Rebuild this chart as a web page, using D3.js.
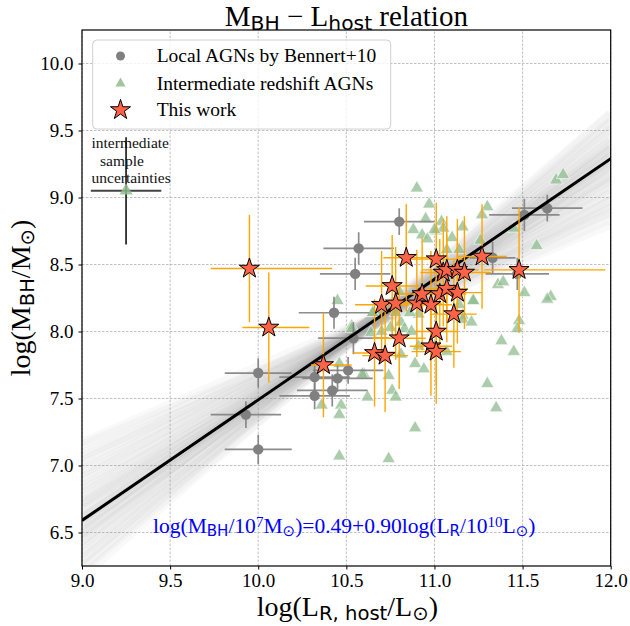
<!DOCTYPE html>
<html>
<head>
<meta charset="utf-8">
<script src="https://cdn.jsdelivr.net/npm/d3@7"></script>
<style>
  body { margin: 0; background: #fff; }
  svg { display: block; }
</style>
</head>
<body>
<div id="wrapper"></div>
<script>
// local AGNs (Bennert+10): x, y, xerr, yerr
var localAGN = [
    [9.93, 7.38, 0.20, 0.10],
    [10.00, 7.69, 0.19, 0.11],
    [10.00, 7.12, 0.19, 0.11],
    [10.32, 7.66, 0.20, 0.10],
    [10.32, 7.52, 0.20, 0.10],
    [10.42, 7.56, 0.20, 0.12],
    [10.45, 7.65, 0.20, 0.10],
    [10.51, 7.71, 0.20, 0.10],
    [10.54, 7.95, 0.20, 0.12],
    [10.43, 8.14, 0.20, 0.12],
    [10.80, 8.82, 0.20, 0.10],
    [10.57, 8.62, 0.20, 0.12],
    [10.55, 8.43, 0.20, 0.12],
    [11.64, 8.92, 0.20, 0.10],
    [11.51, 8.87, 0.20, 0.12],
    [11.33, 8.55, 0.13, 0.12],
    [11.47, 8.43, 0.18, 0.12]
]

// intermediate redshift AGNs: x, y
var interAGN = [
    [10.90, 9.07], [10.97, 8.95], [10.95, 8.84], [11.04, 8.82], [10.88, 8.76],
    [10.93, 8.72], [10.96, 8.69], [11.01, 8.75], [11.05, 8.77], [11.07, 8.61],
    [11.14, 8.61], [10.45, 8.23], [10.80, 8.30], [10.53, 8.04], [11.69, 9.13],
    [11.73, 9.17], [11.30, 8.93], [11.27, 8.87], [11.45, 8.77], [11.58, 8.64],
    [11.26, 8.68], [11.36, 8.35], [11.39, 8.37], [11.51, 8.29], [11.66, 8.26],
    [11.22, 8.23], [11.48, 8.08], [11.47, 8.02], [11.14, 8.20], [11.38, 7.93],
    [11.45, 7.85], [11.30, 7.61], [11.35, 7.43], [10.89, 7.28], [10.74, 7.05],
    [10.60, 7.68], [10.62, 7.51], [10.74, 7.67], [10.76, 7.56], [10.78, 7.51],
    [10.89, 7.76], [10.94, 7.72], [11.07, 7.85], [10.81, 7.83], [10.91, 7.89],
    [10.91, 8.13], [11.16, 8.12], [11.22, 8.23], [11.64, 8.24], [10.53, 8.02],
    [10.65, 8.14], [10.64, 7.99], [10.46, 7.76], [10.59, 7.68], [10.36, 7.45],
    [10.47, 7.45], [10.46, 7.38], [10.46, 7.07], [11.16, 8.09], [11.21, 8.07],
    [10.81, 8.07], [10.86, 8.14], [10.78, 8.14], [10.65, 8.14], [11.00, 8.76],
    [10.70, 8.00], [10.75, 8.03], [10.83, 8.02], [10.87, 8.00], [11.10, 8.70],
    [11.16, 8.78]
]

// sample uncertainty marker: x, y, xerr, yerr
var sampleErr = [9.25, 9.05, 0.20, 0.40]

// this work: x, y, xerr low, xerr high, yerr
var thisWork = [
    [9.95, 8.47, 0.22, 0.47, 0.40],
    [10.06, 8.03, 0.15, 0.23, 0.41],
    [10.37, 7.75, 0.07, 0.16, 0.39],
    [10.66, 7.84, 0.12, 0.12, 0.40],
    [10.72, 7.82, 0.13, 0.13, 0.42],
    [10.80, 7.95, 0.15, 0.15, 0.38],
    [10.98, 7.89, 0.12, 0.12, 0.37],
    [11.01, 7.85, 0.14, 0.14, 0.39],
    [11.01, 8.00, 0.12, 0.12, 0.40],
    [10.70, 8.20, 0.15, 0.15, 0.40],
    [10.78, 8.21, 0.12, 0.12, 0.42],
    [10.90, 8.21, 0.14, 0.14, 0.40],
    [10.98, 8.20, 0.12, 0.12, 0.40],
    [10.76, 8.34, 0.15, 0.15, 0.38],
    [10.93, 8.28, 0.13, 0.13, 0.42],
    [11.03, 8.28, 0.15, 0.15, 0.41],
    [11.07, 8.32, 0.12, 0.12, 0.40],
    [11.13, 8.29, 0.14, 0.14, 0.38],
    [11.11, 8.13, 0.13, 0.13, 0.40],
    [10.84, 8.55, 0.13, 0.13, 0.40],
    [11.01, 8.54, 0.15, 0.15, 0.42],
    [11.05, 8.44, 0.13, 0.13, 0.40],
    [11.07, 8.46, 0.14, 0.14, 0.40],
    [11.13, 8.46, 0.12, 0.12, 0.38],
    [11.17, 8.44, 0.15, 0.15, 0.42],
    [11.27, 8.56, 0.14, 0.14, 0.39],
    [11.48, 8.46, 0.20, 0.49, 0.47]
]

// best fit: log(MBH/1e7) = a + b log(LR/1e10)
var bestFit = [0.49, 0.90]

// fit realisations for the grey band: a, b
var fitSamples = [
    [0.70, 0.55], [0.74, 0.57], [0.66, 0.59], [0.70, 0.61], [0.64, 0.63],
    [0.68, 0.65], [0.61, 0.67], [0.65, 0.69], [0.58, 0.70], [0.63, 0.72],
    [0.56, 0.74], [0.60, 0.76], [0.54, 0.78], [0.58, 0.79], [0.52, 0.81],
    [0.56, 0.83], [0.50, 0.84], [0.54, 0.86], [0.49, 0.88], [0.46, 0.89],
    [0.52, 0.90], [0.48, 0.91], [0.44, 0.92], [0.49, 0.94], [0.45, 0.95],
    [0.41, 0.97], [0.46, 0.98], [0.40, 1.00], [0.44, 1.01], [0.37, 1.03],
    [0.42, 1.05], [0.36, 1.07], [0.39, 1.09], [0.33, 1.11], [0.37, 1.13],
    [0.32, 1.15], [0.50, 0.90], [0.48, 0.88], [0.53, 0.82], [0.45, 0.96]
]

var xTicks = [9.0, 9.5, 10.0, 10.5, 11.0, 11.5, 12.0]
var yTicks = [6.5, 7.0, 7.5, 8.0, 8.5, 9.0, 9.5, 10.0]

width = 630
height = 626

marginTop = 30
marginRight = 19
marginBottom = 60
marginLeft = 82

var serif = "'Liberation Serif', 'Times New Roman', serif"
var sans = "'DejaVu Sans', sans-serif"

const svg = d3.select("#wrapper").append("svg")
    .attr("width", width)
    .attr("height", height)
    .style("font-family", serif)

var x = d3.scaleLinear()
    .domain([9, 12])
    .range([marginLeft, width - marginRight - 0.3])

var y = d3.scaleLinear()
    .domain([6.25, 10.25])
    .range([height - marginBottom, marginTop])

// clip to the axes box
svg.append("clipPath").attr("id", "plotclip")
    .append("rect")
    .attr("x", x(9)).attr("y", y(10.25))
    .attr("width", x(12) - x(9)).attr("height", y(6.25) - y(10.25))

// grid
var grid = svg.append("g").attr("stroke", "#b0b0b0").attr("stroke-width", 0.8)
    .attr("stroke-dasharray", "2.5,1.5")
grid.selectAll(".gx").data(xTicks).join("line")
    .attr("x1", d => x(d)).attr("x2", d => x(d))
    .attr("y1", y(6.25)).attr("y2", y(10.25))
grid.selectAll(".gy").data(yTicks).join("line")
    .attr("x1", x(9)).attr("x2", x(12))
    .attr("y1", d => y(d)).attr("y2", d => y(d))

const plot = svg.append("g").attr("clip-path", "url(#plotclip)")

var fitLine = (a, b) => [[9, 7 + a + b * (9 - 10)], [12, 7 + a + b * (12 - 10)]]
var line = d3.line().x(d => x(d[0])).y(d => y(d[1]))

// grey band of fits
plot.append("g")
    .selectAll("path")
    .data(fitSamples)
    .join("path")
    .attr("d", d => line(fitLine(d[0], d[1])))
    .attr("stroke", "#a0a0a0")
    .attr("stroke-width", 9)
    .attr("stroke-opacity", 0.06)
    .attr("fill", "none")

// intermediate redshift AGNs
var tri = d3.symbol().type(d3.symbolTriangle).size(75)
plot.append("g")
    .selectAll("path")
    .data(interAGN)
    .join("path")
    .attr("d", tri)
    .attr("transform", d => `translate(${x(d[0])},${y(d[1])})`)
    .attr("fill", "#8fbc8f")
    .attr("fill-opacity", 0.75)
    .attr("stroke", "#fff")
    .attr("stroke-width", 0.6)

// local AGNs with error bars
var loc = plot.append("g")
loc.selectAll(".ex").data(localAGN).join("line")
    .attr("x1", d => x(d[0] - d[2])).attr("x2", d => x(d[0] + d[2]))
    .attr("y1", d => y(d[1])).attr("y2", d => y(d[1]))
    .attr("stroke", "#808080").attr("stroke-width", 1.7).attr("stroke-opacity", 0.9)
loc.selectAll(".ey").data(localAGN).join("line")
    .attr("x1", d => x(d[0])).attr("x2", d => x(d[0]))
    .attr("y1", d => y(d[1] - d[3])).attr("y2", d => y(d[1] + d[3]))
    .attr("stroke", "#808080").attr("stroke-width", 1.7).attr("stroke-opacity", 0.9)
loc.selectAll("circle").data(localAGN).join("circle")
    .attr("cx", d => x(d[0])).attr("cy", d => y(d[1]))
    .attr("r", 5.2)
    .attr("fill", "#808080")

// legend (drawn under the sample note)
var star = d3.symbol().type(d3.symbolStar).size(125)
var legend = svg.append("g")
legend.append("rect")
    .attr("x", 92.7).attr("y", 40).attr("width", 298).attr("height", 89).attr("rx", 4)
    .attr("fill", "#fff").attr("fill-opacity", 0.8)
    .attr("stroke", "#d0d0d0")
var legRows = [56, 83.5, 110]
legend.append("circle").attr("cx", 120.5).attr("cy", legRows[0]).attr("r", 4.5).attr("fill", "#808080")
legend.append("path")
    .attr("d", d3.symbol().type(d3.symbolTriangle).size(45))
    .attr("transform", `translate(120.5,${legRows[1]})`)
    .attr("fill", "#8fbc8f").attr("fill-opacity", 0.85)
legend.append("path")
    .attr("d", star)
    .attr("transform", `translate(120.5,${legRows[2]})`)
    .attr("fill", "tomato").attr("stroke", "#000").attr("stroke-width", 1)
var legLabels = ["Local AGNs by Bennert+10", "Intermediate redshift AGNs", "This work"]
legend.selectAll(".lt").data(legLabels).join("text")
    .attr("x", 156.7)
    .attr("y", (d, i) => legRows[i])
    .attr("dy", "0.33em")
    .attr("font-size", 19.5)
    .text(d => d)

// sample uncertainty cross
var samp = plot.append("g")
samp.append("line")
    .attr("x1", x(sampleErr[0] - sampleErr[2])).attr("x2", x(sampleErr[0] + sampleErr[2]))
    .attr("y1", y(sampleErr[1])).attr("y2", y(sampleErr[1]))
    .attr("stroke", "#444").attr("stroke-width", 2)
samp.append("line")
    .attr("x1", x(sampleErr[0])).attr("x2", x(sampleErr[0]))
    .attr("y1", y(sampleErr[1] - sampleErr[3])).attr("y2", y(sampleErr[1] + sampleErr[3]))
    .attr("stroke", "#111").attr("stroke-width", 1.6)
samp.append("path")
    .attr("d", tri)
    .attr("transform", `translate(${x(sampleErr[0])},${y(sampleErr[1])})`)
    .attr("fill", "#8fbc8f").attr("fill-opacity", 0.85)

var sampText = svg.append("text")
    .attr("font-size", 15.5)
    .attr("fill", "#111")
sampText.append("tspan").attr("x", 91.5).attr("y", 148).text("intermediate")
sampText.append("tspan").attr("x", 100).attr("y", 165.5).text("sample")
sampText.append("tspan").attr("x", 91.5).attr("y", 183).text("uncertainties")

// best fit line
plot.append("path")
    .attr("d", line(fitLine(bestFit[0], bestFit[1])))
    .attr("stroke", "#000")
    .attr("stroke-width", 3)
    .attr("fill", "none")

// this work with error bars
var tw = plot.append("g")
tw.selectAll(".ex").data(thisWork).join("line")
    .attr("x1", d => x(d[0] - d[2])).attr("x2", d => x(d[0] + d[3]))
    .attr("y1", d => y(d[1])).attr("y2", d => y(d[1]))
    .attr("stroke", "orange").attr("stroke-width", 1.4)
tw.selectAll(".ey").data(thisWork).join("line")
    .attr("x1", d => x(d[0])).attr("x2", d => x(d[0]))
    .attr("y1", d => y(d[1] - d[4])).attr("y2", d => y(d[1] + d[4]))
    .attr("stroke", "orange").attr("stroke-width", 1.4)
tw.selectAll(".st").data(thisWork).join("path")
    .attr("d", star)
    .attr("transform", d => `translate(${x(d[0])},${y(d[1])})`)
    .attr("fill", "tomato")
    .attr("stroke", "#000")
    .attr("stroke-width", 1)

// axes
var xAxis = g => g
    .attr("transform", `translate(0,${y(6.25)})`)
    .call(d3.axisBottom(x).tickValues(xTicks).tickFormat(d3.format(".1f")).tickSize(3.5).tickSizeOuter(0))
    .call(g => g.select(".domain").remove())
    .call(g => g.selectAll("text").attr("font-family", serif).attr("font-size", 19).attr("fill", "#000").attr("dy", "0.74em"))
var yAxis = g => g
    .attr("transform", `translate(${x(9)},0)`)
    .call(d3.axisLeft(y).tickValues(yTicks).tickFormat(d3.format(".1f")).tickSize(3.5).tickSizeOuter(0))
    .call(g => g.select(".domain").remove())
    .call(g => g.selectAll("text").attr("font-family", serif).attr("font-size", 19).attr("fill", "#000").attr("dx", "-0.1em"))
svg.append("g").call(xAxis)
svg.append("g").call(yAxis)

svg.append("rect")
    .attr("x", x(9)).attr("y", y(10.25))
    .attr("width", x(12) - x(9)).attr("height", y(6.25) - y(10.25))
    .attr("fill", "none").attr("stroke", "#000").attr("stroke-width", 1.2)

// title and axis labels with sub/superscripts
function richText(sel, parts, size) {
    parts.forEach(p => {
        var t = sel.append("tspan").text(p[0])
        if (p[1] == "sub") {
            t.attr("font-family", sans).attr("font-size", size * 0.7).attr("baseline-shift", "-22%")
        } else if (p[1] == "sup") {
            t.attr("font-size", size * 0.7).attr("baseline-shift", "40%")
        }
    })
}

var title = svg.append("text")
    .attr("x", (x(9) + x(12)) / 2).attr("y", 26)
    .attr("text-anchor", "middle")
    .attr("font-size", 29)
richText(title, [["M"], ["BH", "sub"], [" \u2212 L"], ["host", "sub"], [" relation"]], 29)

var xlab = svg.append("text")
    .attr("x", (x(9) + x(12)) / 2 + 1).attr("y", 616)
    .attr("text-anchor", "middle")
    .attr("font-size", 28)
richText(xlab, [["log(L"], ["R, host", "sub"], ["/L"], ["\u2299", "sub"], [")"]], 28)

var ylab = svg.append("text")
    .attr("transform", `translate(30,${(y(6.25) + y(10.25)) / 2}) rotate(-90)`)
    .attr("text-anchor", "middle")
    .attr("font-size", 28)
richText(ylab, [["log(M"], ["BH", "sub"], ["/M"], ["\u2299", "sub"], [")"]], 28)

var eq = svg.append("text")
    .attr("x", 153).attr("y", 533)
    .attr("font-size", 21.5)
    .attr("fill", "blue")
richText(eq, [["log(M"], ["BH", "sub"], ["/10"], ["7", "sup"], ["M"], ["\u2299", "sub"], [")=0.49+0.90log(L"], ["R", "sub"], ["/10"], ["10", "sup"], ["L"], ["\u2299", "sub"], [")"]], 21.5)
</script>
</body>
</html>
